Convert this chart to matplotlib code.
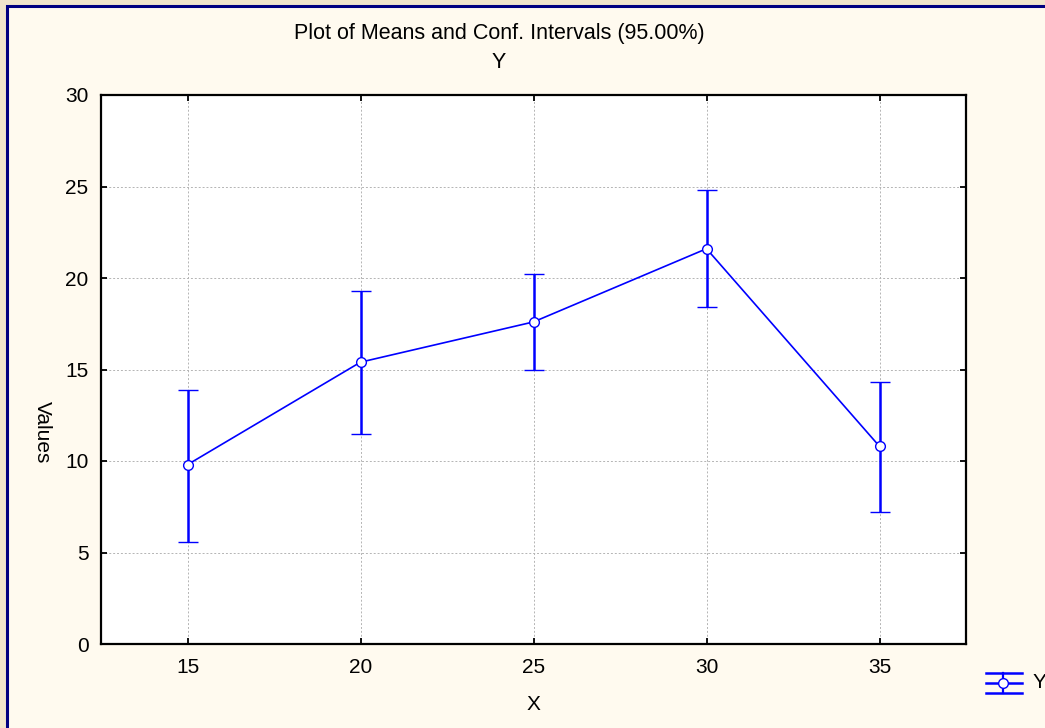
import matplotlib
matplotlib.use("Agg")
import matplotlib.pyplot as plt
from matplotlib.patches import Rectangle
from matplotlib.lines import Line2D
import numpy as np

plt.rcParams['font.family'] = ['Liberation Sans', 'DejaVu Sans']

x_vals = [15, 20, 25, 30, 35]
means = [9.8, 15.4, 17.6, 21.6, 10.8]
ci_upper = [13.9, 19.3, 20.2, 24.8, 14.3]
ci_lower = [5.6, 11.5, 15.0, 18.4, 7.2]
x_ticks = [15, 20, 25, 30, 35]
y_ticks = [0, 5, 10, 15, 20, 25, 30]
title_text = "Plot of Means and Conf. Intervals (95.00%)"
subtitle_text = "Y"
series_name = "Y"

W, H = 1045, 728
fig = plt.figure(figsize=(W / 100, H / 100), dpi=100)
fig.patch.set_facecolor('#F1E6CC')

def fx(px):
    return px / W

def fy(py):
    return 1 - py / H

# inner cream panel with navy border
panel = Rectangle((fx(7), fy(740)), fx(1045), fy(6) - fy(740),
                  transform=fig.transFigure, facecolor='#FFFAEF',
                  edgecolor='#000080', linewidth=2.2, zorder=-10)
fig.patches.append(panel)

ax = fig.add_axes([fx(101), fy(644), fx(966) - fx(101), fy(95) - fy(644)])
ax.set_zorder(5)
ax.set_facecolor('white')

m = np.array(means)
yerr = np.vstack([m - np.array(ci_lower), np.array(ci_upper) - m])
ax.errorbar(x_vals, means, yerr=yerr, color='#0000FF', linewidth=1.2,
            elinewidth=1.8, capsize=7, capthick=1.8,
            marker='o', markersize=7, markerfacecolor='white',
            markeredgecolor='#0000FF', markeredgewidth=1.0, zorder=3)

ax.set_xlim(12.5, 37.5)
ax.set_ylim(0, 30)
ax.set_xticks(x_ticks)
ax.set_yticks(y_ticks)
ax.tick_params(direction='in', length=4, width=1.3, top=True, right=True,
               labelsize=15, colors='black')
ax.tick_params(axis='x', pad=10)
ax.tick_params(axis='y', pad=9)
ax.grid(True, color='#B4B4B4', linestyle=(0, (2, 2)), linewidth=0.7)
for s in ax.spines.values():
    s.set_linewidth(1.6)
    s.set_color('black')

ax.set_xlabel("X", fontsize=15, labelpad=13)
fig.text(fx(42), fy(432), "Values", rotation=270, fontsize=15,
         ha='center', va='center')

fig.text(fx(499), fy(33), title_text, fontsize=15.5, ha='center', va='center')
fig.text(fx(499), fy(63), subtitle_text, fontsize=15.5, ha='center', va='center')

# legend glyph
lx0, lx1, lxc, lyc = 986, 1022, 1003, 683
for dy in (-10, 0, 10):
    fig.lines.append(Line2D([fx(lx0), fx(lx1)], [fy(lyc + dy), fy(lyc + dy)],
                            transform=fig.transFigure, color='#0000FF', linewidth=1.8))
fig.lines.append(Line2D([fx(lxc), fx(lxc)], [fy(lyc - 10), fy(lyc + 10)],
                        transform=fig.transFigure, color='#0000FF', linewidth=1.6))
fig.lines.append(Line2D([fx(lxc)], [fy(lyc)], transform=fig.transFigure,
                        marker='o', markersize=7, markerfacecolor='white',
                        markeredgecolor='#0000FF', markeredgewidth=1.0))
fig.text(fx(1033), fy(lyc), series_name, fontsize=15, ha='left', va='center')

fig.savefig("out.png", dpi=100, facecolor=fig.get_facecolor())
